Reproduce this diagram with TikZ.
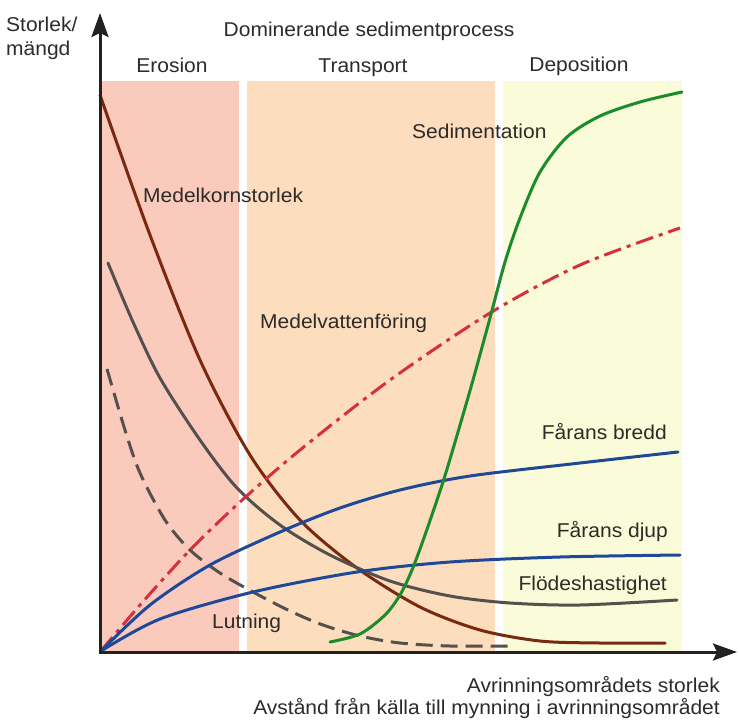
\documentclass[tikz,border=0pt]{standalone}
\usepackage{fontspec}
\setmainfont{Liberation Sans}[FakeStretch=1.05]
\usetikzlibrary{arrows.meta}
\definecolor{erosionc}{RGB}{250,203,188}
\definecolor{transportc}{RGB}{252,221,190}
\definecolor{depositionc}{RGB}{250,251,216}
\definecolor{txtc}{RGB}{45,42,40}
\definecolor{axisc}{RGB}{35,33,33}
\definecolor{brownc}{RGB}{122,40,16}
\definecolor{grayc}{RGB}{85,80,78}
\definecolor{redc}{RGB}{214,48,60}
\definecolor{bluec}{RGB}{30,72,152}
\definecolor{greenc}{RGB}{26,140,42}
\begin{document}
\begin{tikzpicture}[x=1pt,y=-1pt,
  lbl/.style={text=txtc, font=\fontsize{20}{22}\selectfont, inner sep=0pt},
  curve/.style={line width=3pt, line cap=round},
  axisline/.style={draw=axisc, line width=3pt, -{Stealth[length=24pt,width=17pt,inset=4pt]}}]
\useasboundingbox (0,0) rectangle (739,720);
% bands
\fill[erosionc] (100,81) rectangle (239,652);
\fill[transportc] (247,81) rectangle (495,652);
\fill[depositionc] (503,81) rectangle (682,652);
\coordinate (O) at (100,652);
\coordinate (ytip) at (100,13);
\coordinate (xtip) at (737,652);
% curves
\draw[curve, brownc] plot[smooth, tension=0.5] coordinates {(100,95) (150,235) (200,360) (250,455) (300,520) (357,568) (420,607) (480,630) (540,641) (600,643) (665,643)};
\draw[curve, grayc] plot[smooth, tension=0.5] coordinates {(108,263) (133,322) (160,378) (200,440) (237,488) (280,525) (330,555) (390,581) (450,596) (510,603) (580,605) (677,600)};
\draw[line width=3pt, grayc, dash pattern=on 17pt off 8pt] plot[smooth, tension=0.5] coordinates {(107,369) (125,430) (140,473) (165,520) (190,550) (220,573) (253,592) (290,611) (323,625) (360,636) (400,643) (450,646) (514,646)};
\draw[line width=3pt, redc, dash pattern=on 18pt off 6pt on 4pt off 6pt] plot[smooth, tension=0.5] coordinates {(101,651) (140,605) (190,550) (240,502) (300,450) (390,380) (490,313) (580,265) (680,228)};
\draw[curve, bluec] plot[smooth, tension=0.5] coordinates {(101,651) (150,605) (210,565) (280,532) (340,508) (400,490) (470,476) (580,463) (678,452)};
\draw[curve, bluec] plot[smooth, tension=0.5] coordinates {(101,651) (160,619) (253,592) (357,572) (450,562) (560,557) (680,555)};
\draw[curve, greenc] plot[smooth, tension=0.5] coordinates {(330,642) (360,634) (385,615) (400,595) (412,570) (425,535) (443,482) (458,432) (473,380) (490,318) (505,262) (520,218) (540,172) (567,137) (600,116) (640,102) (682,92)};
% axes
\draw[axisline] (O) -- (ytip);
\draw[axisline] ([xshift=-1.5pt]O) -- (xtip);
% labels
\node[lbl, anchor=base west] (ylab1) at (6,31) {Storlek/};
\node[lbl, anchor=base west] (ylab2) at (6,55) {mängd};
\node[lbl, anchor=base] (title) at (369,36) {Dominerande sedimentprocess};
\node[lbl, anchor=base] (ero) at (172,72) {Erosion};
\node[lbl, anchor=base] (tra) at (363,72) {Transport};
\node[lbl, anchor=base] (dep) at (579,71) {Deposition};
\node[lbl, anchor=base west] (sed) at (412,138) {Sedimentation};
\node[lbl, anchor=base west] (mks) at (143,202) {Medelkornstorlek};
\node[lbl, anchor=base west] (mvf) at (260,328) {Medelvattenföring};
\node[lbl, anchor=base east] (fb) at (667,439) {Fårans bredd};
\node[lbl, anchor=base east] (fd) at (668,537) {Fårans djup};
\node[lbl, anchor=base east] (fh) at (667,590) {Flödeshastighet};
\node[lbl, anchor=base west] (lut) at (212,628) {Lutning};
\node[lbl, anchor=base east] (xl1) at (720,692) {Avrinningsområdets storlek};
\node[lbl, anchor=base east] (xl2) at (720,714) {Avstånd från källa till mynning i avrinningsområdet};
\end{tikzpicture}
\end{document}
